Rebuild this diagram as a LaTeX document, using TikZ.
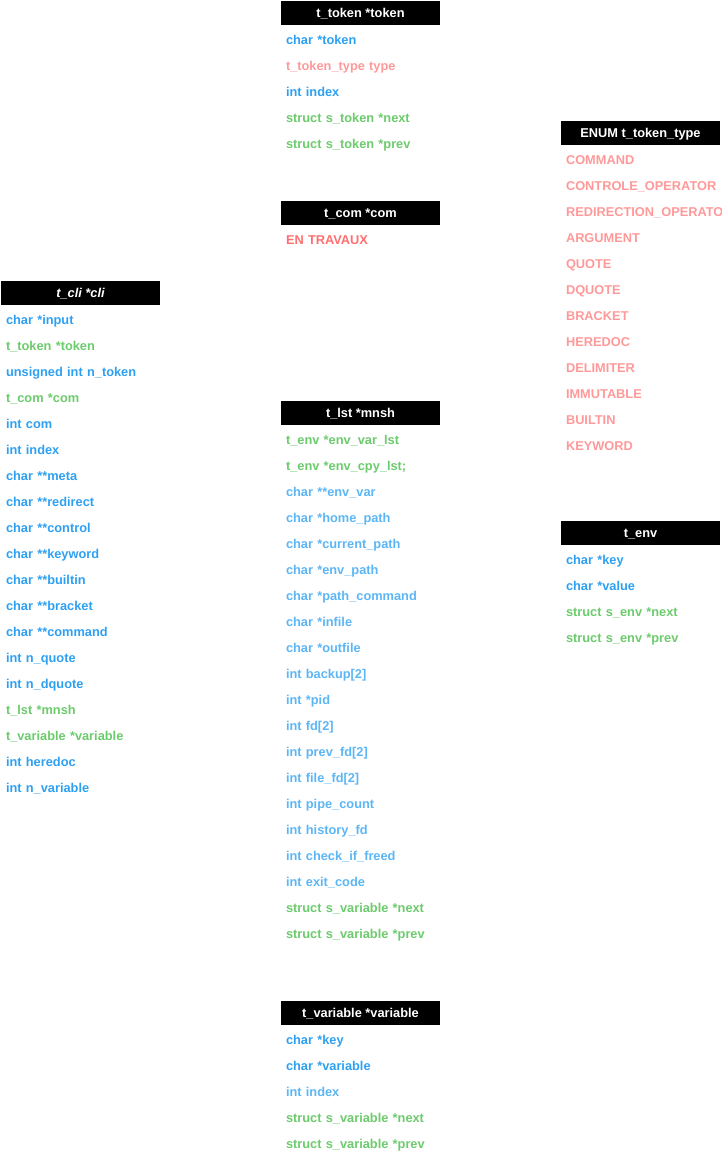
\documentclass[tikz,border=0pt]{standalone}
\usepackage{fontspec}
\setmainfont{Liberation Sans}
\usetikzlibrary{positioning}
\definecolor{fblue}{HTML}{2EA0F2}
\definecolor{flblue}{HTML}{5CB6F5}
\definecolor{fgreen}{HTML}{6CCB6C}
\definecolor{fpink}{HTML}{FF9999}
\definecolor{fred}{HTML}{FF6F6F}
\tikzset{node distance=26pt,
  hdr/.style={fill=black, text=white, font=\bfseries\fontsize{12.8}{15}\selectfont,
    minimum width=159pt, minimum height=24pt, inner sep=0pt,
    text height=9.2pt, text depth=0pt},
  field/.style={font=\bfseries\fontsize{12.8}{15}\selectfont, text width=149pt,
    inner xsep=5pt, inner ysep=0pt, align=left,
    text height=9.2pt, text depth=0pt,
    execute at begin node={\hyphenpenalty=10000\exhyphenpenalty=10000}}}
% one row per field, stacked under the header (#2-0)
\newcommand\fieldlist[3][]{%
  \foreach \t/\c [count=\i] in {#3} {
    \pgfmathtruncatemacro\p{\i-1}
    \ifnum\i=1 \def\dy{-1pt}\else\def\dy{0pt}\fi
    \node[field, text=\c, #1, below of=#2-\p, yshift=\dy] (#2-\i) {\t};
  }}

\begin{document}
\begin{tikzpicture}[x=1pt, y=-1pt]
    \useasboundingbox (0,0) rectangle (721,1161);
    \clip (0,0) rectangle (721,1161);

    % headers
    \node[hdr] (cli-0) at (80.5,293) {\itshape t\_cli *cli};
    \node[hdr] (tok-0) at (360.5,13) {t\_token *token};
    \node[hdr] (com-0) at (360.5,213) {t\_com *com};
    \node[hdr] (lst-0) at (360.5,413) {t\_lst *mnsh};
    \node[hdr] (var-0) at (360.5,1013) {t\_variable *variable};
    \node[hdr] (typ-0) at (640.5,133) {ENUM t\_token\_type};
    \node[hdr] (env-0) at (640.5,533) {t\_env};

    % fields
    \fieldlist{cli}{char *input/fblue, t\_token *token/fgreen,
        unsigned int n\_token/fblue, t\_com *com/fgreen, int com/fblue,
        int index/fblue, char **meta/fblue, char **redirect/fblue,
        char **control/fblue, char **keyword/fblue, char **builtin/fblue,
        char **bracket/fblue, char **command/fblue, int n\_quote/fblue,
        int n\_dquote/fblue, t\_lst *mnsh/fgreen, t\_variable *variable/fgreen,
        int heredoc/fblue, int n\_variable/fblue}
    \fieldlist{tok}{char *token/fblue, t\_token\_type type/fpink,
        int index/fblue, struct s\_token *next/fgreen, struct s\_token *prev/fgreen}
    \fieldlist{com}{EN TRAVAUX/fred}
    \fieldlist{lst}{t\_env *env\_var\_lst/fgreen, t\_env *env\_cpy\_lst;/fgreen,
        char **env\_var/flblue, char *home\_path/flblue, char *current\_path/flblue,
        char *env\_path/flblue, char *path\_command/flblue, char *infile/flblue,
        char *outfile/flblue, {int backup[2]}/flblue, int *pid/flblue,
        {int fd[2]}/flblue, {int prev\_fd[2]}/flblue, {int file\_fd[2]}/flblue,
        int pipe\_count/flblue, int history\_fd/flblue, int check\_if\_freed/flblue,
        int exit\_code/flblue, struct s\_variable *next/fgreen,
        struct s\_variable *prev/fgreen}
    \fieldlist{var}{char *key/fblue, char *variable/fblue, int index/flblue,
        struct s\_variable *next/fgreen, struct s\_variable *prev/fgreen}
    \fieldlist{typ}{COMMAND/fpink, CONTROLE\_OPERATOR/fpink,
        REDIRECTION\_OPERATOR/fpink, ARGUMENT/fpink, QUOTE/fpink, DQUOTE/fpink,
        BRACKET/fpink, HEREDOC/fpink, DELIMITER/fpink, IMMUTABLE/fpink,
        BUILTIN/fpink, KEYWORD/fpink}
    \fieldlist{env}{char *key/fblue, char *value/fblue,
        struct s\_env *next/fgreen, struct s\_env *prev/fgreen}
\end{tikzpicture}
\end{document}
